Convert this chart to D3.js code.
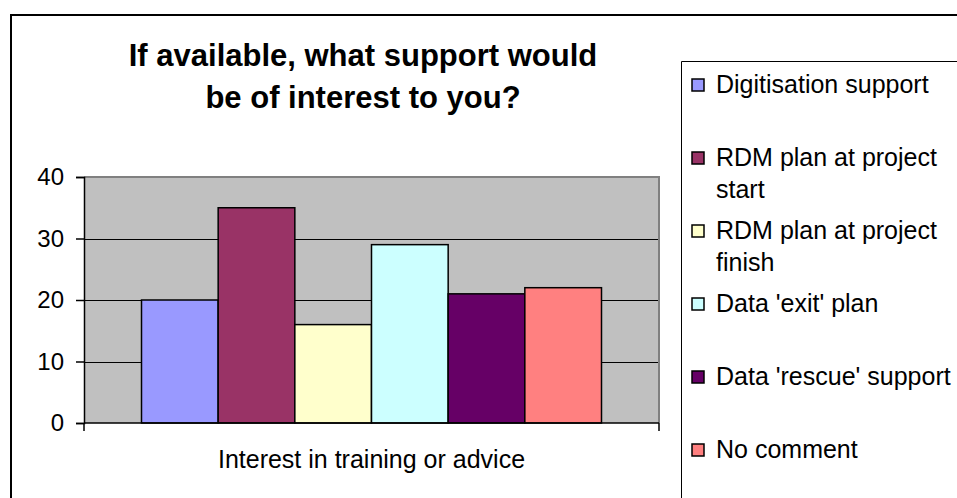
<!DOCTYPE html>
<html>
<head>
<meta charset="utf-8">
<script src="https://cdn.jsdelivr.net/npm/d3@7"></script>
<style>
  html, body { margin: 0; padding: 0; background: #fff; }
  svg { display: block; }
  text { font-family: "Liberation Sans", Arial, sans-serif; fill: #000; }
</style>
</head>
<body>
<svg id="chart" width="957" height="498"></svg>
<script>
// Survey responses: one category, six kinds of support
const categories = ["Interest in training or advice"];
const seriesNames = [
  "Digitisation support",
  "RDM plan at project start",
  "RDM plan at project finish",
  "Data 'exit' plan",
  "Data 'rescue' support",
  "No comment"
];
const seriesValues = [20, 35, 16, 29, 21, 22];
const seriesColors = ["#9999FF", "#993366", "#FFFFCC", "#CCFFFF", "#660066", "#FF8080"];
// Legend entries wrapped the way they appear in the legend box
const legendLines = [
  ["Digitisation support"],
  ["RDM plan at project", "start"],
  ["RDM plan at project", "finish"],
  ["Data 'exit' plan"],
  ["Data 'rescue' support"],
  ["No comment"]
];
const yTicks = [0, 10, 20, 30, 40];
const titleLines = ["If available, what support would", "be of interest to you?"];

const svg = d3.select("#chart");

// Chart area frame (continues past the right and bottom edges)
svg.append("path")
  .attr("d", "M11,1000 L11,15 L1000,15")
  .attr("fill", "none")
  .attr("stroke", "#000")
  .attr("stroke-width", 2);

// Plot area
const plot = { left: 84, right: 659, top: 177, bottom: 423 };

const y = d3.scaleLinear().domain([0, 40]).range([plot.bottom, plot.top]);
const xCat = d3.scaleBand().domain(categories).range([plot.left, plot.right]);
const xSeries = d3.scaleBand()
  .domain(d3.range(seriesValues.length))
  .range([0, xCat.bandwidth()])
  .paddingInner(0)
  .paddingOuter(0.75);

svg.append("rect")
  .attr("x", plot.left).attr("y", plot.top)
  .attr("width", plot.right - plot.left).attr("height", plot.bottom - plot.top)
  .attr("fill", "#C0C0C0");

// Horizontal gridlines
svg.append("g")
  .selectAll("line")
  .data(yTicks.filter(t => t > 0 && t < 40))
  .join("line")
  .attr("x1", plot.left).attr("x2", plot.right)
  .attr("y1", d => Math.round(y(d)) + 0.5).attr("y2", d => Math.round(y(d)) + 0.5)
  .attr("stroke", "#000").attr("stroke-width", 1);

// Plot area border (gray)
svg.append("path")
  .attr("d", `M${plot.left},${plot.top} L${plot.right},${plot.top} L${plot.right},${plot.bottom}`)
  .attr("fill", "none")
  .attr("stroke", "#808080")
  .attr("stroke-width", 2);

// Bars
const cat = categories[0];
svg.append("g")
  .selectAll("rect")
  .data(seriesValues)
  .join("rect")
  .attr("x", (d, i) => xCat(cat) + xSeries(i))
  .attr("y", d => y(d))
  .attr("width", xSeries.bandwidth())
  .attr("height", d => y(0) - y(d))
  .attr("fill", (d, i) => seriesColors[i])
  .attr("stroke", "#000")
  .attr("stroke-width", 1.5);

// Y axis
const yAxis = d3.axisLeft(y).tickValues(yTicks).tickSize(8).tickPadding(12).tickFormat(d3.format("d"));
const gy = svg.append("g").attr("transform", `translate(${plot.left},0)`).call(yAxis);
gy.select(".domain").attr("stroke", "#000").attr("stroke-width", 1.5);
gy.selectAll(".tick line").attr("stroke", "#000").attr("stroke-width", 1.5);
gy.selectAll(".tick text").style("font-size", "24px").attr("fill", "#000");

// X axis: line along zero with end ticks at the plot edges
const gx = svg.append("g").attr("transform", `translate(0,${y(0)})`);
gx.append("line")
  .attr("x1", plot.left).attr("x2", plot.right)
  .attr("stroke", "#000").attr("stroke-width", 1.5);
gx.selectAll("line.edge")
  .data([plot.left, plot.right])
  .join("line")
  .attr("class", "edge")
  .attr("x1", d => d).attr("x2", d => d)
  .attr("y1", 0).attr("y2", 8)
  .attr("stroke", "#000").attr("stroke-width", 1.5);
gx.append("text")
  .attr("x", xCat(cat) + xCat.bandwidth() / 2)
  .attr("y", 45)
  .attr("text-anchor", "middle")
  .style("font-size", "25px")
  .text(cat);

// Title
svg.append("g")
  .selectAll("text")
  .data(titleLines)
  .join("text")
  .attr("x", 363)
  .attr("y", (d, i) => 66 + i * 42)
  .attr("text-anchor", "middle")
  .style("font-size", "31px")
  .style("font-weight", "bold")
  .text(d => d);

// Legend
const legend = svg.append("g");
legend.append("path")
  .attr("d", "M1000,61.5 L681.5,61.5 L681.5,1000")
  .attr("fill", "none")
  .attr("stroke", "#000")
  .attr("stroke-width", 1);

const items = legend.selectAll("g.item")
  .data(seriesNames)
  .join("g")
  .attr("class", "item")
  .attr("transform", (d, i) => `translate(0,${93 + i * 73})`);

items.append("rect")
  .attr("x", 692).attr("y", -14)
  .attr("width", 12).attr("height", 12)
  .attr("fill", (d, i) => seriesColors[i])
  .attr("stroke", "#000")
  .attr("stroke-width", 1.5);

items.append("text")
  .attr("x", 716)
  .style("font-size", "25px")
  .selectAll("tspan")
  .data((d, i) => legendLines[i])
  .join("tspan")
  .attr("x", 716)
  .attr("y", (d, j) => j * 32)
  .text(d => d);
</script>
</body>
</html>
